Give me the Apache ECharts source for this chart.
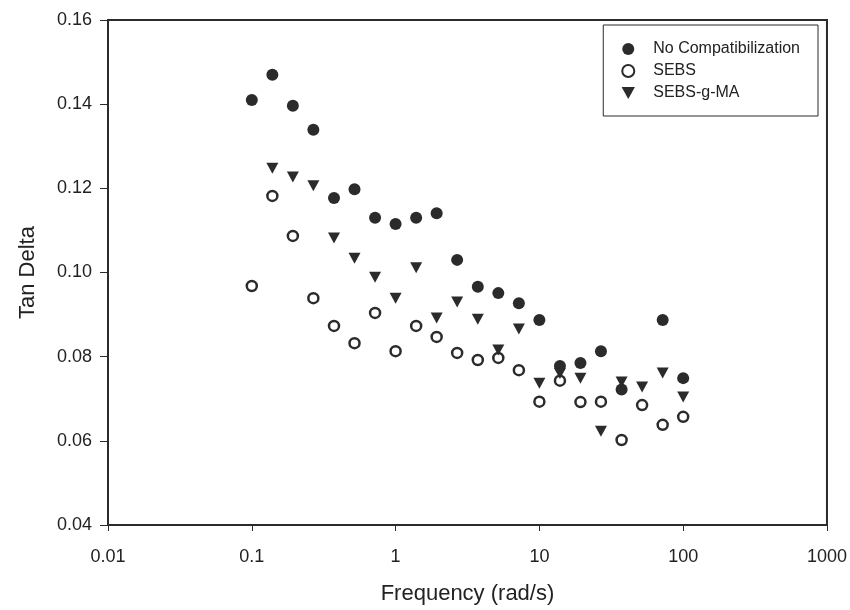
<!DOCTYPE html>
<html>
<head>
<meta charset="utf-8">
<script src="https://cdn.jsdelivr.net/npm/echarts@6/dist/echarts.min.js"></script>
<style>
  html, body { margin: 0; padding: 0; background: #fff; }
  #chart { width: 850px; height: 610px; }
</style>
</head>
<body>
<div id="chart"></div>
<script>
// frequencies (rad/s), 7 points per decade
const freq = [0.1, 0.139, 0.193, 0.268, 0.373, 0.518, 0.72, 1, 1.39, 1.93, 2.68, 3.73, 5.18, 7.2, 10, 13.9, 19.3, 26.8, 37.3, 51.8, 72, 100]

const noCompat = [0.141, 0.147, 0.1396, 0.1339, 0.1177, 0.1198, 0.113, 0.1115, 0.113, 0.1141, 0.103, 0.0966, 0.0951, 0.0927, 0.0887, 0.0778, 0.0785, 0.0813, 0.0722, null, 0.0887, 0.0749]
const sebs = [0.0968, 0.1182, 0.1087, 0.0939, 0.0873, 0.0832, 0.0904, 0.0813, 0.0873, 0.0847, 0.0809, 0.0792, 0.0797, 0.0768, 0.0693, 0.0743, 0.0692, 0.0693, 0.0602, 0.0685, 0.0638, 0.0657]
const sebsMA = [null, 0.1248, 0.1227, 0.1206, 0.1082, 0.1034, 0.0989, 0.0939, 0.1011, 0.0892, 0.093, 0.0889, 0.0816, 0.0866, 0.0737, 0.076, 0.0749, 0.0623, 0.074, 0.0728, 0.0761, 0.0704]

const pairs = arr => freq.map((f, i) => [f, arr[i]]).filter(p => p[1] !== null)

const chart = echarts.init(document.getElementById('chart'))
const font = 'Liberation Sans, Arial, sans-serif'
const dark = '#2b2b2b'
const downTriangle = 'path://M0,0L10,0L5,9Z'

chart.setOption({
  animation: false,
  textStyle: { fontFamily: font },
  grid: { left: 108, right: 20, top: 20, bottom: 85, show: true, borderColor: dark, borderWidth: 2 },
  legend: {
    right: 32, top: 25,
    orient: 'vertical',
    padding: [15, 18, 14, 18],
    itemGap: 4,
    itemWidth: 40, itemHeight: 12,
    borderColor: dark, borderWidth: 1,
    textStyle: { fontSize: 16, color: '#222', fontFamily: font, lineHeight: 18 },
    data: ['No Compatibilization', 'SEBS', 'SEBS-g-MA']
  },
  xAxis: {
    type: 'log', logBase: 10, min: 0.01, max: 1000,
    name: 'Frequency (rad/s)', nameLocation: 'middle', nameGap: 58,
    nameTextStyle: { fontSize: 22, color: '#222' },
    axisLine: { lineStyle: { color: dark, width: 2 } },
    axisTick: { show: true, length: 6, lineStyle: { color: dark } },
    minorTick: { show: false },
    splitLine: { show: false },
    axisLabel: { fontSize: 18, color: '#222', margin: 23, formatter: v => String(v) }
  },
  yAxis: {
    type: 'value', min: 0.04, max: 0.16, interval: 0.02,
    name: 'Tan Delta', nameLocation: 'middle', nameGap: 69,
    nameTextStyle: { fontSize: 22, color: '#222' },
    axisLine: { lineStyle: { color: dark, width: 2 } },
    axisTick: { show: true, length: 8, lineStyle: { color: dark } },
    splitLine: { show: false },
    axisLabel: { fontSize: 18, color: '#222', margin: 16, formatter: v => v.toFixed(2) }
  },
  series: [
    {
      name: 'No Compatibilization', type: 'scatter', data: pairs(noCompat),
      symbol: 'circle', symbolSize: 12,
      itemStyle: { color: dark, opacity: 1 }
    },
    {
      name: 'SEBS', type: 'scatter', data: pairs(sebs),
      symbol: 'circle', symbolSize: 10,
      itemStyle: { color: '#fff', borderColor: dark, borderWidth: 2.5, opacity: 1 }
    },
    {
      name: 'SEBS-g-MA', type: 'scatter', data: pairs(sebsMA),
      symbol: downTriangle, symbolSize: [12, 11],
      itemStyle: { color: dark, opacity: 1 }
    }
  ]
})
</script>
</body>
</html>
